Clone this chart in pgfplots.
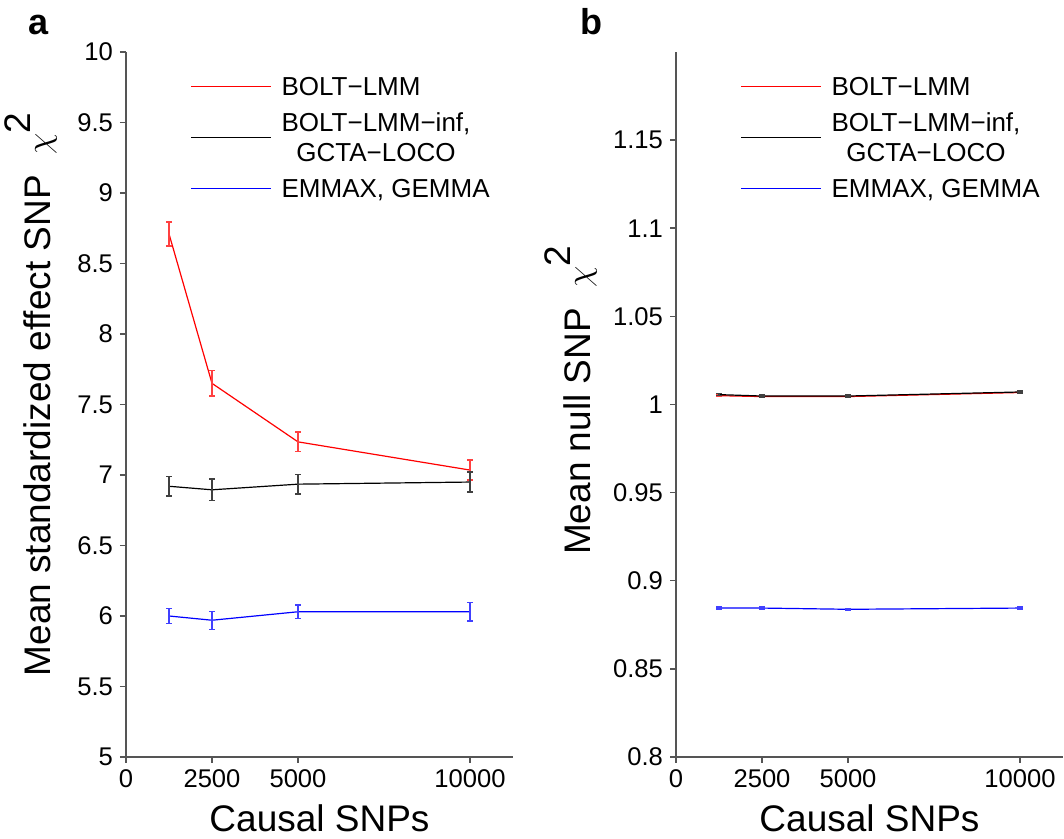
\documentclass[border=0pt]{standalone}
\usepackage{pgfplots}
\pgfplotsset{compat=1.18}
\usepackage{pgfplotstable}
\usepackage{fontspec}
\setmainfont{Liberation Sans}

\definecolor{axgray}{RGB}{85,85,85}
\definecolor{redeb}{RGB}{255,64,64}
\definecolor{blkeb}{RGB}{64,64,64}
\definecolor{blueeb}{RGB}{64,64,255}

% panel a data: x, y, err
\pgfplotstableread{
x y e
1250 8.71 0.085
2500 7.65 0.090
5000 7.235 0.070
10000 7.035 0.070
}\redA
\pgfplotstableread{
x y e
1250 6.92 0.070
2500 6.895 0.077
5000 6.935 0.070
10000 6.95 0.070
}\blackA
\pgfplotstableread{
x y e
1250 6.00 0.055
2500 5.97 0.064
5000 6.03 0.048
10000 6.03 0.065
}\blueA
% panel b data
\pgfplotstableread{
x y e
1250 1.0050 0.0005
2500 1.0045 0.0005
5000 1.0045 0.0005
10000 1.0068 0.0005
}\redB
\pgfplotstableread{
x y e
1250 1.0056 0.0005
2500 1.0048 0.0005
5000 1.0048 0.0005
10000 1.0071 0.0005
}\blackB
\pgfplotstableread{
x y e
1250 0.8845 0.0005
2500 0.8845 0.0005
5000 0.8838 0.0003
10000 0.8845 0.0005
}\blueB

\pgfplotsset{
  myaxis/.style={
    scale only axis,
    width=193.5pt, height=352.5pt,
    axis x line*=bottom, axis y line*=left,
    axis line style={axgray, line width=0.75pt, -},
    tick align=outside,
    major tick length=3pt,
    tick style={axgray, line width=0.75pt},
    xmin=0, xmax=11250,
    xtick={0,2500,5000,10000},
    scaled x ticks=false,
    xticklabel style={/pgf/number format/.cd, fixed, 1000 sep={}},
    /pgf/number format/assume math mode=true,
    tick label style={font=\fontsize{12.8}{15}\selectfont, text=black},
    label style={font=\fontsize{18.5}{22}\selectfont},
    xlabel={Causal SNPs},
    xlabel style={at={(axis description cs:0.5,-0.105)}, anchor=base},
    legend image code/.code={\draw[##1] (0pt,0pt) -- (40pt,0pt);},
    legend cell align=left,
    legend style={
      at={(axis description cs:0.1654,0.965)}, anchor=north west,
      draw=none, fill=none, inner sep=0pt,
      font=\fontsize{13}{15}\selectfont,
      nodes={inner sep=0pt, text height=9.3pt, text depth=0pt},
      /tikz/column sep=5pt, /tikz/row sep=16.2pt,
      cells={anchor=west},
    },
    error bars/y dir=both, error bars/y explicit,
    error bars/error mark options={rotate=90, mark size=1.4pt, line width=0.7pt},
  },
  mainline/.style={line width=0.6pt, mark=none},
}

\begin{document}
\begin{tikzpicture}
\begin{axis}[myaxis,
  at={(63pt,41pt)}, anchor=south west,
  ymin=5, ymax=10, ytick={5,5.5,...,10},
  yticklabel style={/pgf/number format/.cd, fixed, precision=1},
  ylabel={Mean standardized effect SNP\ \ $\chi$\raisebox{1.0ex}{2}},
  ylabel style={at={(axis description cs:-0.196,0.514)}, anchor=base},
]
\addplot[mainline, red, error bars/error bar style={redeb, line width=0.7pt}] table[x=x, y=y, y error=e] {\redA};
\addlegendentry{BOLT\textminus LMM}
\addplot[mainline, black, error bars/error bar style={blkeb, line width=0.7pt}] table[x=x, y=y, y error=e] {\blackA};
\addlegendentry{\smash{\begin{tabular}{@{}c@{}}BOLT\textminus LMM\textminus inf,\\GCTA\textminus LOCO\end{tabular}}}
\addplot[mainline, blue, error bars/error bar style={blueeb, line width=0.7pt}] table[x=x, y=y, y error=e] {\blueA};
\addlegendentry{EMMAX, GEMMA}
\end{axis}

\begin{axis}[myaxis,
  at={(338pt,41pt)}, anchor=south west,
  ymin=0.8, ymax=1.2, ytick={0.8,0.85,0.9,0.95,1,1.05,1.1,1.15},
  yticklabel style={/pgf/number format/.cd, fixed, precision=2},
  ylabel={Mean null SNP\ \ $\chi$\raisebox{1.0ex}{2}},
  ylabel style={at={(axis description cs:-0.222,0.506)}, anchor=base},
]
\addplot[mainline, red, error bars/error bar style={redeb, line width=0.7pt}] table[x=x, y=y, y error=e] {\redB};
\addlegendentry{BOLT\textminus LMM}
\addplot[mainline, black, error bars/error bar style={blkeb, line width=0.7pt}] table[x=x, y=y, y error=e] {\blackB};
\addlegendentry{\smash{\begin{tabular}{@{}c@{}}BOLT\textminus LMM\textminus inf,\\GCTA\textminus LOCO\end{tabular}}}
\addplot[mainline, blue, error bars/error bar style={blueeb, line width=0.7pt}] table[x=x, y=y, y error=e] {\blueB};
\addlegendentry{EMMAX, GEMMA}
\end{axis}

\node[anchor=base west, inner sep=0pt, font=\fontsize{18}{20}\selectfont\bfseries] at (14pt,402pt) {a};
\node[anchor=base west, inner sep=0pt, font=\fontsize{18}{20}\selectfont\bfseries] at (290pt,402pt) {b};

\pgfresetboundingbox
\path (0,0) rectangle (532pt,419.5pt);
\end{tikzpicture}
\end{document}
